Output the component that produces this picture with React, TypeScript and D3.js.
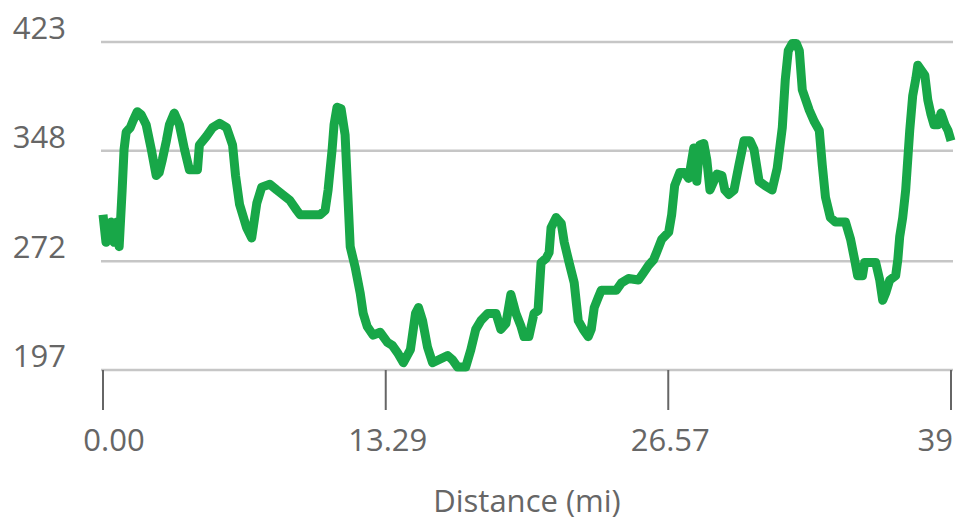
import React from 'react';
import * as d3 from 'd3';

// elevation profile
const distance = [
  0.00, 0.14, 0.28, 0.38, 0.52, 0.66, 0.76, 0.90, 0.99, 1.09, 1.28, 1.42, 1.61, 1.79, 2.03, 2.27,
  2.50, 2.64, 2.79, 2.98, 3.12, 3.35, 3.59, 3.83, 4.06, 4.44, 4.53, 4.86, 5.15, 5.48, 5.81, 6.09,
  6.23, 6.42, 6.75, 6.99, 7.23, 7.46, 7.84, 8.17, 8.78, 9.11, 9.26, 10.20, 10.44, 10.58, 10.77, 10.86,
  11.00, 11.19, 11.38, 11.52, 11.62, 11.85, 12.09, 12.23, 12.42, 12.70, 13.03, 13.37, 13.60, 13.84, 14.12, 14.45,
  14.69, 14.83, 15.02, 15.25, 15.49, 16.20, 16.43, 16.67, 17.05, 17.29, 17.52, 17.76, 18.09, 18.47, 18.70, 18.94,
  19.17, 19.41, 19.65, 19.79, 20.02, 20.26, 20.45, 20.59, 20.83, 20.97, 21.06, 21.30, 21.54, 21.68, 21.91, 22.15,
  22.34, 22.57, 22.81, 22.95, 23.09, 23.28, 23.42, 24.13, 24.37, 24.70, 25.17, 25.41, 25.64, 25.88, 26.02, 26.26,
  26.59, 26.73, 26.87, 27.11, 27.34, 27.53, 27.77, 27.91, 28.05, 28.24, 28.38, 28.53, 28.86, 29.09, 29.23, 29.42,
  29.66, 29.89, 30.13, 30.41, 30.60, 30.84, 31.12, 31.45, 31.69, 31.93, 32.07, 32.21, 32.40, 32.59, 32.73, 32.87,
  33.20, 33.44, 33.67, 33.81, 33.96, 34.19, 34.43, 34.90, 35.14, 35.33, 35.47, 35.70, 35.80, 36.32, 36.51, 36.65,
  36.79, 36.98, 37.26, 37.36, 37.45, 37.59, 37.73, 37.92, 38.06, 38.21, 38.30, 38.44, 38.63, 38.77, 38.92, 39.06,
  39.25, 39.39, 39.58, 39.72, 39.86,
];
const elevation = [
  304, 285, 295, 299, 285, 299, 282, 321, 349, 361, 364, 369, 375, 373, 366, 349,
  331, 333, 342, 355, 366, 374, 366, 349, 335, 335, 352, 358, 364, 367, 364, 352,
  331, 311, 295, 288, 312, 323, 325, 321, 314, 307, 304, 304, 307, 321, 349, 366,
  378, 377, 359, 314, 282, 268, 250, 236, 227, 221, 223, 216, 214, 209, 202, 211,
  236, 240, 231, 213, 202, 207, 204, 199, 199, 211, 225, 231, 236, 236, 225, 229,
  249, 236, 227, 220, 220, 236, 238, 271, 274, 278, 295, 302, 298, 285, 271, 257,
  231, 225, 220, 225, 240, 247, 252, 252, 257, 260, 259, 264, 269, 273, 278, 287,
  292, 304, 324, 333, 333, 329, 350, 327, 352, 353, 342, 321, 332, 331, 321, 318,
  321, 338, 355, 355, 349, 327, 324, 321, 336, 364, 397, 417, 422, 422, 417, 390,
  376, 368, 362, 338, 316, 302, 299, 299, 287, 273, 262, 262, 271, 271, 259, 245,
  250, 259, 262, 273, 289, 302, 321, 362, 386, 398, 407, 404, 400, 383, 373, 366,
  366, 374, 366, 362, 355,
];

const xTicks = [0, 13.29, 26.57, 39.86];
const xTickLabels = ['0.00', '13.29', '26.57', '39'];
const yTicks = [197, 272, 348, 423];
const yTickLabels = ['197', '272', '348', '423'];
const xTitle = 'Distance (mi)';

const W = 958;
const H = 526;

const App = () => {
  const x = d3.scaleLinear().domain([0, 39.86]).range([103, 951]);
  const y = d3.scaleLinear().domain([197, 423]).range([370, 42]);

  const points = distance.map((d, i) => [d, elevation[i]] as [number, number]);
  const path = d3.line<[number, number]>()
    .x(d => x(d[0]))
    .y(d => y(d[1]))(points);

  const font = "'Open Sans', sans-serif";

  return (
    <svg width={W} height={H} style={{ position: 'absolute', left: 0, top: 0, background: '#fff' }}>
      {/* grid lines, the lowest one is the x axis */}
      {yTicks.map((t, i) => (
        <g key={i}>
          <line x1={101} x2={953} y1={y(t)} y2={y(t)} stroke='#c6c6c6' strokeWidth={2.5} />
          <text x={66} y={y(t) - 3} textAnchor='end' fontFamily={font} fontSize={31} fill='#666'>
            {yTickLabels[i]}
          </text>
        </g>
      ))}
      {xTicks.map((t, i) => {
        const last = i === xTicks.length - 1;
        const first = i === 0;
        return (
          <g key={i}>
            <line x1={x(t)} x2={x(t)} y1={370} y2={410} stroke='#666' strokeWidth={2} />
            <text
              x={first ? x(t) + 11 : last ? 953 : x(t) + 2}
              y={451}
              textAnchor={last ? 'end' : 'middle'}
              fontFamily={font} fontSize={31} fill='#666'>
              {xTickLabels[i]}
            </text>
          </g>
        );
      })}
      <text x={527} y={512} textAnchor='middle' fontFamily={font} fontSize={31} fill='#666'>
        {xTitle}
      </text>
      <path d={path || ''} fill='none' stroke='#18a748' strokeWidth={9} strokeLinejoin='round' />
    </svg>
  );
};

export default App;
